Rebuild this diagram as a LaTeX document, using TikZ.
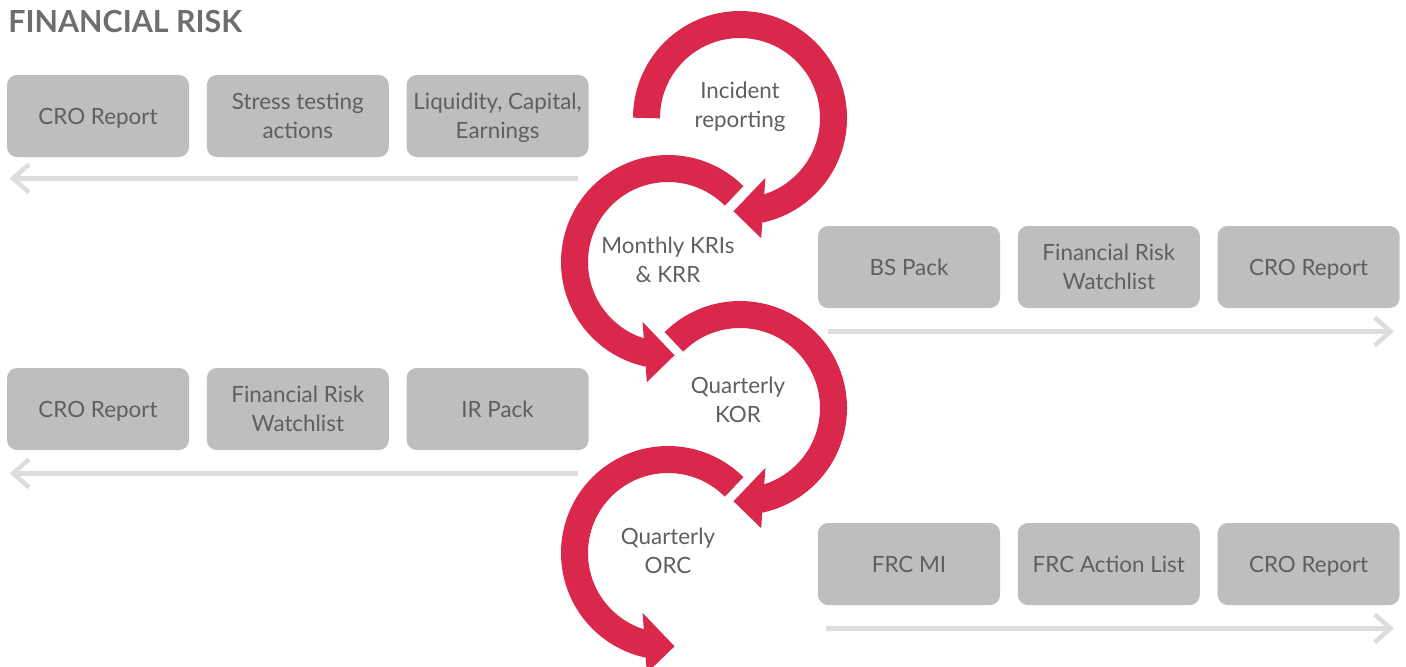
\documentclass[tikz,border=0pt]{standalone}
\usepackage{fontspec}
\setmainfont{Lato}
\usepackage{xcolor}
\usepackage{tikz}
\usetikzlibrary{arrows.meta, positioning, calc}

\definecolor{boxgrey}{HTML}{BDBEC0}
\definecolor{textgrey}{HTML}{5E5F61}
\definecolor{titlegrey}{HTML}{6D6E70}
\definecolor{linegrey}{HTML}{DCDDDE}
\definecolor{riskred}{HTML}{D9284C}

% curved red arrow: centre, start angle, band end, tip angle, inner and outer back corner
\newcommand{\cyclearrow}[6]{%
  \draw[loopband] ($(#1)+(#2:93.5)$) arc[start angle=#2, end angle=#3, radius=93.5];
  \fill[riskred] ($(#1)+(#5:65)$) -- ($(#1)+(#4:93.5)$) -- ($(#1)+(#6:122)$) -- cycle;
}

\begin{document}
\begin{tikzpicture}[x=0.5pt, y=0.5pt, node distance=8.5pt, >=latex]
\tikzstyle{stage} = [rectangle, fill=boxgrey, rounded corners=5pt, minimum height=41pt, minimum width=91pt, inner sep=0pt, text depth=0pt, text=textgrey, align=center, font=\fontsize{11.2}{14.6}\selectfont]
\tikzstyle{phase} = [text depth=0pt, text=textgrey, align=center, font=\fontsize{11.2}{14.6}\selectfont]
\tikzstyle{flow} = [draw=linegrey, line width=2.25pt, -{Straight Barb[length=8pt, width=14pt]}]
\tikzstyle{loopband} = [draw=riskred, line width=13.5pt]

\useasboundingbox (0,0) rectangle (1406,-666);

\node[anchor=west, inner sep=0pt, text=titlegrey, font=\bfseries\fontsize{15.2}{18}\selectfont] (title) at (8,-22) {FINANCIAL RISK};

% first row, flowing left
\node[stage] (cro1) at (98,-116) {CRO Report};
\node[stage, right=of cro1] (stress) {Stress testing\\actions};
\node[stage, right=of stress] (liq) {Liquidity, Capital,\\Earnings};

% second row, flowing right
\node[stage] (bspack) at (909,-267) {BS Pack};
\node[stage, right=of bspack] (watch1) {Financial Risk\\Watchlist};
\node[stage, right=of watch1] (cro2) {CRO Report};

% third row, flowing left
\node[stage] (cro3) at (98,-409) {CRO Report};
\node[stage, right=of cro3] (watch2) {Financial Risk\\Watchlist};
\node[stage, right=of watch2] (irpack) {IR Pack};

% fourth row, flowing right
\node[stage] (frcmi) at (909,-564) {FRC MI};
\node[stage, right=of frcmi] (frcact) {FRC Action List};
\node[stage, right=of frcact] (cro4) {CRO Report};

\draw[flow] ([shift={(-11,-21)}]liq.south east) -- ([shift={(3,-21)}]cro1.south west);
\draw[flow] ([shift={(10,-23)}]bspack.south west) -- ([shift={(-6,-23)}]cro2.south east);
\draw[flow] ([shift={(-11,-23)}]irpack.south east) -- ([shift={(3,-23)}]cro3.south west);
\draw[flow] ([shift={(8,-23)}]frcmi.south west) -- ([shift={(-6,-23)}]cro4.south east);

% red cycle
\coordinate (c1) at (740,-118);
\coordinate (c2) at (668,-262);
\coordinate (c3) at (740,-408);
\coordinate (c4) at (668,-553);
\cyclearrow{c1}{180}{-78}{-94}{-67}{-80}
\cyclearrow{c2}{45}{258}{274}{247}{260}
\cyclearrow{c3}{135}{-78}{-94}{-67}{-80}
\cyclearrow{c4}{45}{258}{274}{247}{260}

\node[phase] (incident) at (740,-105) {Incident\\reporting};
\node[phase] (monthly) at (668,-260) {Monthly KRIs\\\& KRR};
\node[phase] (kor) at (738,-400) {Quarterly\\KOR};
\node[phase] (orc) at (668,-551) {Quarterly\\ORC};
\end{tikzpicture}
\end{document}
